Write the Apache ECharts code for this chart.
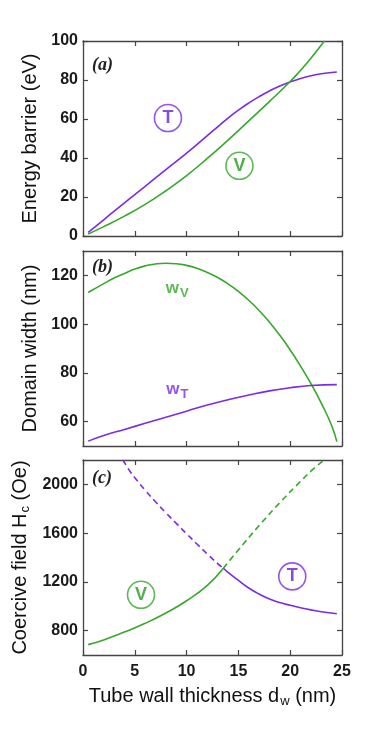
<!DOCTYPE html>
<html>
<head>
  <meta charset="utf-8">
  <script src="https://cdn.jsdelivr.net/npm/echarts@6/dist/echarts.min.js"></script>
  <style>
    html, body { margin: 0; padding: 0; background: #fff; }
  </style>
</head>
<body>
<div id="main" style="width: 382px; height: 731px"></div>
<script>
  // (a) energy barrier, eV
  const energyT = [[0.5, 1.8], [2, 8.3], [4, 17], [6, 25.5], [8, 34], [10, 42.5], [12, 51.5], [13, 56], [14, 60.5],
    [15, 64.5], [16, 68.2], [17, 71.5], [18, 74.4], [19, 76.9], [20, 79], [21, 80.8], [22, 82.2], [23, 83.2], [24.5, 84.1]];
  const energyV = [[0.5, 1], [2, 4.8], [4, 10.2], [6, 16.2], [8, 23.2], [10, 31], [12, 39.8], [14, 49.2], [16, 59],
    [18, 69], [20, 79.2], [21, 85], [22, 91.2], [23.3, 100]];
  // (b) domain width, nm
  const widthV = [[0.5, 113], [1, 114.2], [2, 116.6], [3, 118.9], [4, 120.8], [5, 122.6], [6, 123.9], [7, 124.7], [8, 125],
    [9, 124.8], [10, 124.1], [11, 122.9], [12, 121.2], [13, 119.1], [14, 116.5], [15, 113.4], [16, 109.8], [17, 105.6],
    [18, 100.8], [19, 95.4], [20, 89.4], [21, 82.8], [22, 75.6], [23, 67.6], [24, 58.4], [24.5, 51.8]];
  const widthT = [[0.5, 52], [2, 54.3], [4, 56.8], [6, 59.3], [8, 61.8], [10, 64.3], [12, 66.8], [14, 69], [16, 70.9],
    [18, 72.6], [20, 73.9], [22, 74.8], [24.5, 75.2]];
  // (c) coercive field, Oe
  const coerVSolid = [[0.5, 685], [2, 724], [4, 788], [6, 860], [8, 945], [10, 1045], [12, 1172], [13.55, 1312]];
  const coerVDash = [[13.55, 1312], [15, 1462], [17, 1662], [19, 1850], [21, 2025], [22, 2108], [23.25, 2200]];
  const coerTDash = [[3.85, 2200], [4.5, 2112], [5, 2055], [6, 1952], [7, 1857], [8, 1767], [9, 1680], [10, 1595],
    [11, 1511], [12, 1428], [13, 1350], [13.55, 1312]];
  const coerTSolid = [[13.55, 1312], [14, 1278], [15, 1212], [16, 1150], [17, 1100], [18, 1060], [19, 1030],
    [20, 1008], [21, 988], [22, 970], [23, 955], [24.5, 938]];

  // tick values
  const energyTicks = [0, 20, 40, 60, 80, 100];
  const widthTicks = [60, 80, 100, 120];
  const coerTicks = [800, 1200, 1600, 2000];

  // circled labels [x, y, text]
  const circlesA = [[8.2, 60.5, 'T'], [15.1, 36, 'V']];
  const circlesC = [[20.2, 1245, 'T'], [5.6, 1094, 'V']];
  const wLabels = [[9.1, 114.7, 'V'], [9.1, 73.1, 'T']];

  const PURPLE = '#7b2be6';
  const GREEN = '#36a82a';
  const AXIS = '#444';

  const myChart = echarts.init(document.getElementById('main'));

  const tops = [41, 251, 460];
  const grids = tops.map(t => ({ left: 83, right: 40, top: t, height: 195 }));

  function xAx(g, pos, labels) {
    return {
      type: 'value', gridIndex: g, position: pos, min: 0, max: 25, interval: 5,
      axisLine: { show: true, onZero: false, lineStyle: { color: AXIS, width: 1.3 } },
      axisTick: { show: true, inside: true, length: 5, lineStyle: { color: AXIS, width: 1.2 } },
      axisLabel: {
        show: labels, fontSize: 16, fontWeight: 'bold', color: '#1a1a1a', margin: 9,
        fontFamily: 'Liberation Sans', formatter: v => String(v)
      },
      splitLine: { show: false }
    };
  }

  function yAx(g, pos, min, max, ticks, name) {
    const a = {
      type: 'value', gridIndex: g, position: pos, min: min, max: max,
      axisLine: { show: true, onZero: false, lineStyle: { color: AXIS, width: 1.3 } },
      axisTick: { show: true, inside: true, length: 5, customValues: ticks, lineStyle: { color: AXIS, width: 1.2 } },
      axisLabel: {
        show: pos === 'left', customValues: ticks, fontSize: 16, fontWeight: 'bold', color: '#1a1a1a',
        margin: 5, fontFamily: 'Liberation Sans', formatter: v => String(v)
      },
      splitLine: { show: false }
    };
    if (name) {
      a.name = name;
      a.nameLocation = 'middle';
      a.nameGap = 40;
      a.nameTextStyle = {
        fontSize: 20, color: '#111', fontFamily: 'Liberation Sans',
        rich: {
          m: { fontSize: 20, color: '#111', fontFamily: 'Liberation Sans' },
          s: { fontSize: 13, color: '#111', fontFamily: 'Liberation Sans', padding: [9, 0, 0, 1] }
        }
      };
    }
    return a;
  }

  function line(g, data, color, dashed) {
    return {
      type: 'line', xAxisIndex: 2 * g, yAxisIndex: 2 * g, data: data, smooth: 0.5,
      showSymbol: false, symbol: 'none', silent: true,
      lineStyle: { color: color, width: 1.6, type: dashed ? [6, 4] : 'solid' }
    };
  }

  function circles(g, items) {
    return {
      type: 'scatter', xAxisIndex: 2 * g, yAxisIndex: 2 * g, symbol: 'circle', symbolSize: 27, silent: true,
      data: items.map(c => ({
        value: [c[0], c[1]],
        itemStyle: { color: 'rgba(255,255,255,0)', borderColor: c[2] === 'T' ? PURPLE : GREEN, borderWidth: 1.6 },
        label: { color: c[2] === 'T' ? '#6a1fd0' : '#259a1c' }
      })),
      label: {
        show: true, position: 'inside', formatter: p => items[p.dataIndex][2],
        fontSize: 18, fontWeight: 'bold', fontFamily: 'Liberation Sans'
      }
    };
  }

  const wSeries = {
    type: 'scatter', xAxisIndex: 2, yAxisIndex: 2, symbolSize: 1, silent: true,
    itemStyle: { color: 'rgba(0,0,0,0)' },
    data: wLabels.map(w => ({
      value: [w[0], w[1]],
      label: {
        color: w[2] === 'V' ? GREEN : PURPLE,
        rich: {
          w: { fontSize: 17, fontWeight: 'bold', fontFamily: 'Liberation Sans', color: w[2] === 'V' ? GREEN : PURPLE },
          s: { fontSize: 13, fontWeight: 'bold', fontFamily: 'Liberation Sans', color: w[2] === 'V' ? GREEN : PURPLE, padding: [10, 0, 0, 1] }
        }
      }
    })),
    label: { show: true, position: 'inside', formatter: p => '{w|w}{s|' + wLabels[p.dataIndex][2] + '}' }
  };

  const bottomX = xAx(2, 'bottom', true);
  bottomX.name = '{m|Tube wall thickness d}{s|w}{m| (nm)}';
  bottomX.nameLocation = 'middle';
  bottomX.nameGap = 30;
  bottomX.nameTextStyle = {
    rich: {
      m: { fontSize: 20, color: '#111', fontFamily: 'Liberation Sans' },
      s: { fontSize: 13, color: '#111', fontFamily: 'Liberation Sans', padding: [10, 0, 0, 1] }
    }
  };

  const panelLabel = (txt, top) => ({
    type: 'text', left: 92, top: top,
    style: { text: txt, fontSize: 18, fontStyle: 'italic', fontWeight: 'bold', fontFamily: 'Liberation Serif', fill: '#222' }
  });

  myChart.setOption({
    animation: false,
    grid: grids,
    xAxis: [
      xAx(0, 'bottom', false), xAx(0, 'top', false),
      xAx(1, 'bottom', false), xAx(1, 'top', false),
      bottomX, xAx(2, 'top', false)
    ],
    yAxis: [
      yAx(0, 'left', 0, 100, energyTicks, '{m|Energy barrier (eV)}'), yAx(0, 'right', 0, 100, energyTicks),
      yAx(1, 'left', 50, 130, widthTicks, '{m|Domain width (nm)}'), yAx(1, 'right', 50, 130, widthTicks),
      yAx(2, 'left', 600, 2200, coerTicks, '{m|Coercive field H}{s|c}{m| (Oe)}'), yAx(2, 'right', 600, 2200, coerTicks)
    ],
    graphic: [panelLabel('(a)', 56), panelLabel('(b)', 258), panelLabel('(c)', 469)],
    series: [
      line(0, energyT, PURPLE), line(0, energyV, GREEN),
      line(1, widthV, GREEN), line(1, widthT, PURPLE),
      line(2, coerVSolid, GREEN), line(2, coerVDash, GREEN, true),
      line(2, coerTDash, PURPLE, true), line(2, coerTSolid, PURPLE),
      circles(0, circlesA), circles(2, circlesC), wSeries
    ]
  });
</script>
</body>
</html>
